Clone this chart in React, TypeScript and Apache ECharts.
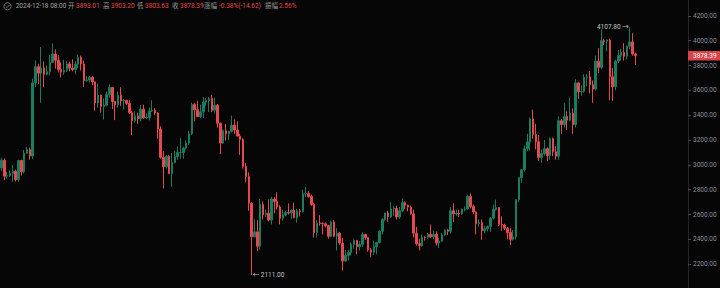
import React, { useEffect, useRef } from "react";
import * as echarts from "echarts";

// Daily candles, 2024-05-09 .. 2024-12-18
const startDate = "2024-05-09";
const padSlots = 18;

const opens = [
  2974, 3037, 2909, 2912, 2929, 2949, 2881, 3035, 2944, 3093, 3122, 3071, 3660, 3790, 3738, 3780, 3729, 3750, 3825, 3892, 3842, 3767, 3747,
  3761, 3813, 3780, 3768, 3810, 3865, 3812, 3680, 3683, 3705, 3668, 3498, 3560, 3470, 3480, 3566, 3623, 3510, 3483, 3560, 3515, 3518, 3495, 3420, 3355, 3394, 3370, 3448, 3378, 3382,
  3435, 3440, 3418, 3288, 3060, 2985, 3068, 2930, 3018, 3066, 3100, 3100, 3135, 3175, 3250, 3485, 3444, 3388, 3427, 3505, 3518, 3535, 3440, 3480, 3335, 3175, 3275, 3250, 3270, 3320, 3280,
  3232, 3205, 2987, 2905, 2690, 2420, 2460, 2345, 2680, 2600, 2610, 2555, 2725, 2705, 2660, 2570, 2595, 2615, 2612, 2635, 2575, 2630, 2625, 2765, 2768, 2745, 2680, 2455, 2530, 2528, 2525,
  2510, 2425, 2540, 2425, 2450, 2370, 2225, 2270, 2295, 2360, 2390, 2340, 2360, 2440, 2415, 2315, 2295, 2340, 2375, 2465, 2560, 2612, 2580, 2645, 2650, 2580, 2630, 2695, 2675, 2660,
  2605, 2450, 2365, 2350, 2415, 2414, 2440, 2420, 2440, 2370, 2385, 2435, 2475, 2465, 2630, 2605, 2610, 2605, 2640, 2645, 2745, 2665, 2620, 2525, 2535, 2470, 2485, 2505, 2570, 2640, 2655,
  2520, 2515, 2490, 2455, 2400, 2420, 2720, 2895, 2960, 3130, 3185, 3370, 3245, 3185, 3060, 3090, 3130, 3075, 3210, 3105, 3070, 3355, 3325, 3390, 3360, 3415, 3325, 3660, 3590, 3592,
  3705, 3708, 3645, 3610, 3835, 3785, 4000, 3995, 4005, 3710, 3630, 3835, 3880, 3905, 3875, 3955, 3990, 3893.01,
];
const highs = [
  3057, 3053, 2945, 2955, 2999, 2961, 3041, 3041, 3119, 3145, 3139, 3695, 3840, 3814, 3949, 3833, 3800, 3885, 3977, 3929, 3883, 3824, 3846,
  3835, 3830, 3850, 3834, 3888, 3880, 3840, 3715, 3713, 3717, 3672, 3655, 3566, 3535, 3590, 3650, 3625, 3515, 3590, 3625, 3530, 3525, 3522, 3435, 3430, 3420, 3480, 3485, 3415, 3460,
  3520, 3455, 3425, 3310, 3110, 3080, 3080, 3095, 3110, 3148, 3217, 3145, 3195, 3275, 3500, 3500, 3515, 3485, 3545, 3540, 3545, 3563, 3540, 3490, 3340, 3285, 3330, 3275, 3396, 3365, 3350,
  3250, 3215, 3015, 2940, 2700, 2560, 2555, 2725, 2705, 2640, 2720, 2740, 2740, 2780, 2675, 2640, 2630, 2690, 2640, 2695, 2645, 2645, 2800, 2820, 2790, 2760, 2695, 2555, 2595, 2535, 2535,
  2515, 2550, 2555, 2490, 2460, 2410, 2315, 2315, 2375, 2400, 2395, 2385, 2460, 2440, 2420, 2330, 2390, 2380, 2475, 2570, 2615, 2630, 2700, 2670, 2670, 2660, 2730, 2705, 2680, 2670,
  2640, 2500, 2405, 2440, 2425, 2450, 2520, 2470, 2465, 2410, 2450, 2480, 2485, 2660, 2690, 2640, 2640, 2650, 2665, 2760, 2770, 2680, 2625, 2560, 2560, 2510, 2510, 2580, 2680, 2720, 2660,
  2585, 2525, 2500, 2490, 2475, 2720, 2900, 2965, 3155, 3250, 3380, 3445, 3330, 3240, 3125, 3200, 3140, 3220, 3220, 3150, 3390, 3370, 3495, 3430, 3540, 3455, 3690, 3665, 3640, 3730,
  3730, 3755, 3680, 3880, 3940, 4090, 4015, 4010, 4015, 3780, 3845, 3925, 3935, 3980, 3960, 4107.8, 4060, 3903.2,
];
const lows = [
  2952, 2878, 2888, 2903, 2864, 2867, 2865, 2914, 2930, 3091, 3041, 3049, 3626, 3651, 3500, 3625, 3720, 3720, 3823, 3775, 3744, 3703, 3725,
  3749, 3752, 3753, 3730, 3780, 3760, 3627, 3670, 3665, 3640, 3436, 3460, 3420, 3365, 3475, 3540, 3450, 3360, 3460, 3475, 3445, 3480, 3410, 3240, 3340, 3330, 3350, 3370, 3370, 3358,
  3425, 3400, 3210, 3050, 2810, 2970, 2925, 2822, 3010, 3040, 3050, 3050, 3125, 3160, 3240, 3350, 3385, 3375, 3377, 3475, 3425, 3425, 3420, 3300, 3087, 3170, 3195, 3200, 3260, 3250, 3230,
  3080, 2970, 2860, 2630, 2111, 2415, 2305, 2315, 2560, 2580, 2545, 2520, 2610, 2640, 2520, 2550, 2585, 2600, 2565, 2570, 2535, 2585, 2615, 2740, 2735, 2670, 2415, 2415, 2510, 2440, 2495,
  2405, 2420, 2420, 2310, 2355, 2150, 2220, 2230, 2270, 2325, 2280, 2310, 2340, 2395, 2300, 2255, 2275, 2280, 2365, 2440, 2545, 2540, 2570, 2590, 2560, 2565, 2620, 2645, 2625, 2600,
  2415, 2350, 2310, 2340, 2390, 2405, 2410, 2400, 2350, 2330, 2380, 2430, 2435, 2445, 2540, 2590, 2580, 2600, 2625, 2640, 2650, 2605, 2440, 2500, 2395, 2450, 2465, 2460, 2560, 2630, 2505,
  2470, 2475, 2400, 2355, 2390, 2400, 2700, 2855, 2945, 3110, 3115, 3210, 3125, 3030, 3015, 3075, 3030, 3040, 3070, 3040, 3040, 3250, 3300, 3280, 3350, 3250, 3300, 3530, 3555, 3580,
  3635, 3575, 3500, 3600, 3740, 3770, 3965, 3915, 3520, 3515, 3600, 3820, 3840, 3840, 3850, 3930, 3880, 3803.63,
];
const closes = [
  3037, 2909, 2912, 2929, 2949, 2881, 3035, 2944, 3093, 3122, 3071, 3660, 3790, 3738, 3780, 3729, 3750, 3825, 3892, 3842, 3767, 3747, 3761,
  3813, 3780, 3768, 3810, 3865, 3812, 3680, 3683, 3705, 3668, 3498, 3560, 3470, 3480, 3566, 3623, 3510, 3483, 3560, 3515, 3518, 3495, 3420, 3355, 3394, 3370, 3448, 3378, 3382, 3435,
  3440, 3418, 3288, 3060, 2985, 3068, 2930, 3018, 3066, 3100, 3100, 3135, 3175, 3250, 3485, 3444, 3388, 3427, 3505, 3518, 3535, 3440, 3480, 3335, 3175, 3275, 3250, 3270, 3320, 3280, 3232,
  3205, 2987, 2905, 2690, 2420, 2460, 2345, 2680, 2600, 2610, 2555, 2725, 2705, 2660, 2570, 2595, 2615, 2612, 2635, 2575, 2630, 2625, 2765, 2768, 2745, 2680, 2455, 2530, 2528, 2525, 2510,
  2425, 2540, 2425, 2450, 2370, 2225, 2270, 2295, 2360, 2390, 2340, 2360, 2440, 2415, 2315, 2295, 2340, 2375, 2465, 2560, 2612, 2580, 2645, 2650, 2580, 2630, 2695, 2675, 2660, 2605,
  2450, 2365, 2350, 2415, 2414, 2440, 2420, 2440, 2370, 2385, 2435, 2475, 2465, 2630, 2605, 2610, 2605, 2640, 2645, 2745, 2665, 2620, 2525, 2535, 2470, 2485, 2505, 2570, 2640, 2655, 2520,
  2515, 2490, 2455, 2400, 2420, 2720, 2895, 2960, 3130, 3185, 3370, 3245, 3185, 3060, 3090, 3130, 3075, 3210, 3105, 3070, 3355, 3325, 3390, 3360, 3415, 3325, 3660, 3590, 3592, 3705,
  3708, 3645, 3610, 3835, 3785, 4000, 3995, 4005, 3710, 3630, 3835, 3880, 3905, 3875, 3955, 3990, 3893.01, 3878.39,
];

const headerLabels = ["开", "高", "低", "收", "涨幅", "振幅"];

const UP = "#197d5f";
const DOWN = "#e5484d";
const GRAY = "#9a9a9a";
const FONT = "Roboto, 'Noto Sans CJK SC', sans-serif";
const FS = 6.5;

function buildCategories(): string[] {
  const out: string[] = [];
  const d = new Date(startDate + "T00:00:00Z");
  for (let i = 0; i < closes.length + padSlots; i++) {
    out.push(d.toISOString().slice(0, 10));
    d.setUTCDate(d.getUTCDate() + 1);
  }
  return out;
}

export default function App() {
  const ref = useRef<HTMLDivElement>(null);
  useEffect(() => {
    if (!ref.current) return;
    const chart = echarts.init(ref.current, null, { renderer: "svg" });
    const categories = buildCategories();
    const candles = closes.map((c, i) => [opens[i], c, lows[i], highs[i]]);
    const n = closes.length - 1;
    const o = opens[n], h = highs[n], l = lows[n], c = closes[n];
    const chg = c - o;
    const pct = (chg / o) * 100;
    const amp = ((h - l) / o) * 100;
    const lastDate = categories[n] + " 08:00";
    const values = [
      o.toFixed(2),
      h.toFixed(2),
      l.toFixed(2),
      c.toFixed(2),
      `${pct.toFixed(2)}%(${chg.toFixed(2)})`,
      `${amp.toFixed(2)}%`,
    ];
    const labelX = [68, 103, 137, 172, 204, 265];
    const valueX = [76, 111, 145, 180, 219, 279];
    const txt = (x: number, text: string, fill: string) => ({
      type: "text",
      x,
      y: 6.3,
      silent: true,
      style: { text, fill, fontSize: FS, fontFamily: FONT, verticalAlign: "middle", align: "left" },
    });
    const headerEls: any[] = [
      {
        type: "circle",
        shape: { cx: 7.5, cy: 6.3, r: 3.6 },
        style: { fill: "none", stroke: "#8d8d8d", lineWidth: 0.8 },
      },
      {
        type: "polyline",
        shape: { points: [[5.8, 6.4], [7.1, 7.6], [9.3, 5.1]] },
        style: { fill: "none", stroke: "#8d8d8d", lineWidth: 0.8 },
      },
      txt(15.7, lastDate, "#a3a3a3"),
    ];
    headerLabels.forEach((lab, i) => {
      headerEls.push(txt(labelX[i], lab, GRAY));
      headerEls.push(txt(valueX[i], values[i], DOWN));
    });

    chart.setOption({
      animation: false,
      backgroundColor: "#060606",
      grid: { left: 0, right: 32, top: -9, bottom: -1, containLabel: false, outerBoundsMode: "none" },
      xAxis: {
        type: "category",
        data: categories,
        boundaryGap: true,
        show: false,
      },
      yAxis: {
        type: "value",
        position: "right",
        min: 2000,
        max: 4400,
        interval: 200,
        axisLine: { show: true, lineStyle: { color: "#262626", width: 1 } },
        axisTick: { show: true, length: 3, lineStyle: { color: "#4a4a4a" } },
        axisLabel: {
          margin: 5,
          color: "#8a8e98",
          fontSize: FS,
          fontFamily: FONT,
          showMinLabel: false,
          showMaxLabel: false,
          formatter: (v: number) => v.toFixed(2),
        },
        splitLine: { show: false },
      },
      series: [
        {
          type: "candlestick",
          data: candles,
          barWidth: 2,
          itemStyle: {
            color: UP,
            color0: DOWN,
            borderColor: UP,
            borderColor0: DOWN,
            borderColorDoji: UP,
            borderWidth: 1,
          },
          markPoint: {
            symbol: "circle",
            symbolSize: 0.1,
            itemStyle: { color: "transparent" },
            silent: true,
            label: { show: true, color: "#c4c4c4", fontSize: FS, fontFamily: FONT },
            data: [
              {
                type: "max",
                valueDim: "highest",
                label: {
                  position: "left",
                  distance: 1,
                  formatter: (p: any) => `${Number(p.value).toFixed(2)} →`,
                },
              },
              {
                type: "min",
                valueDim: "lowest",
                label: {
                  position: "right",
                  distance: 1,
                  formatter: (p: any) => `← ${Number(p.value).toFixed(2)}`,
                },
              },
            ],
          },
          markLine: {
            silent: true,
            symbol: ["none", "none"],
            lineStyle: { color: "rgba(0,0,0,0)", width: 0, type: "solid" },
            emphasis: { disabled: true },
            label: {
              show: true,
              position: "end",
              distance: 0,
              formatter: () => c.toFixed(2),
              color: "#ffffff",
              backgroundColor: "#d9434a",
              fontSize: FS,
              fontFamily: FONT,
              padding: [1.5, 4, 1.5, 5],
            },
            data: [{ yAxis: c }],
          },
        },
      ],
      graphic: { elements: headerEls },
    });
    return () => chart.dispose();
  }, []);
  return (
    <div
      ref={ref}
      style={{ position: "fixed", left: 0, top: 0, width: 720, height: 288 }}
    />
  );
}
